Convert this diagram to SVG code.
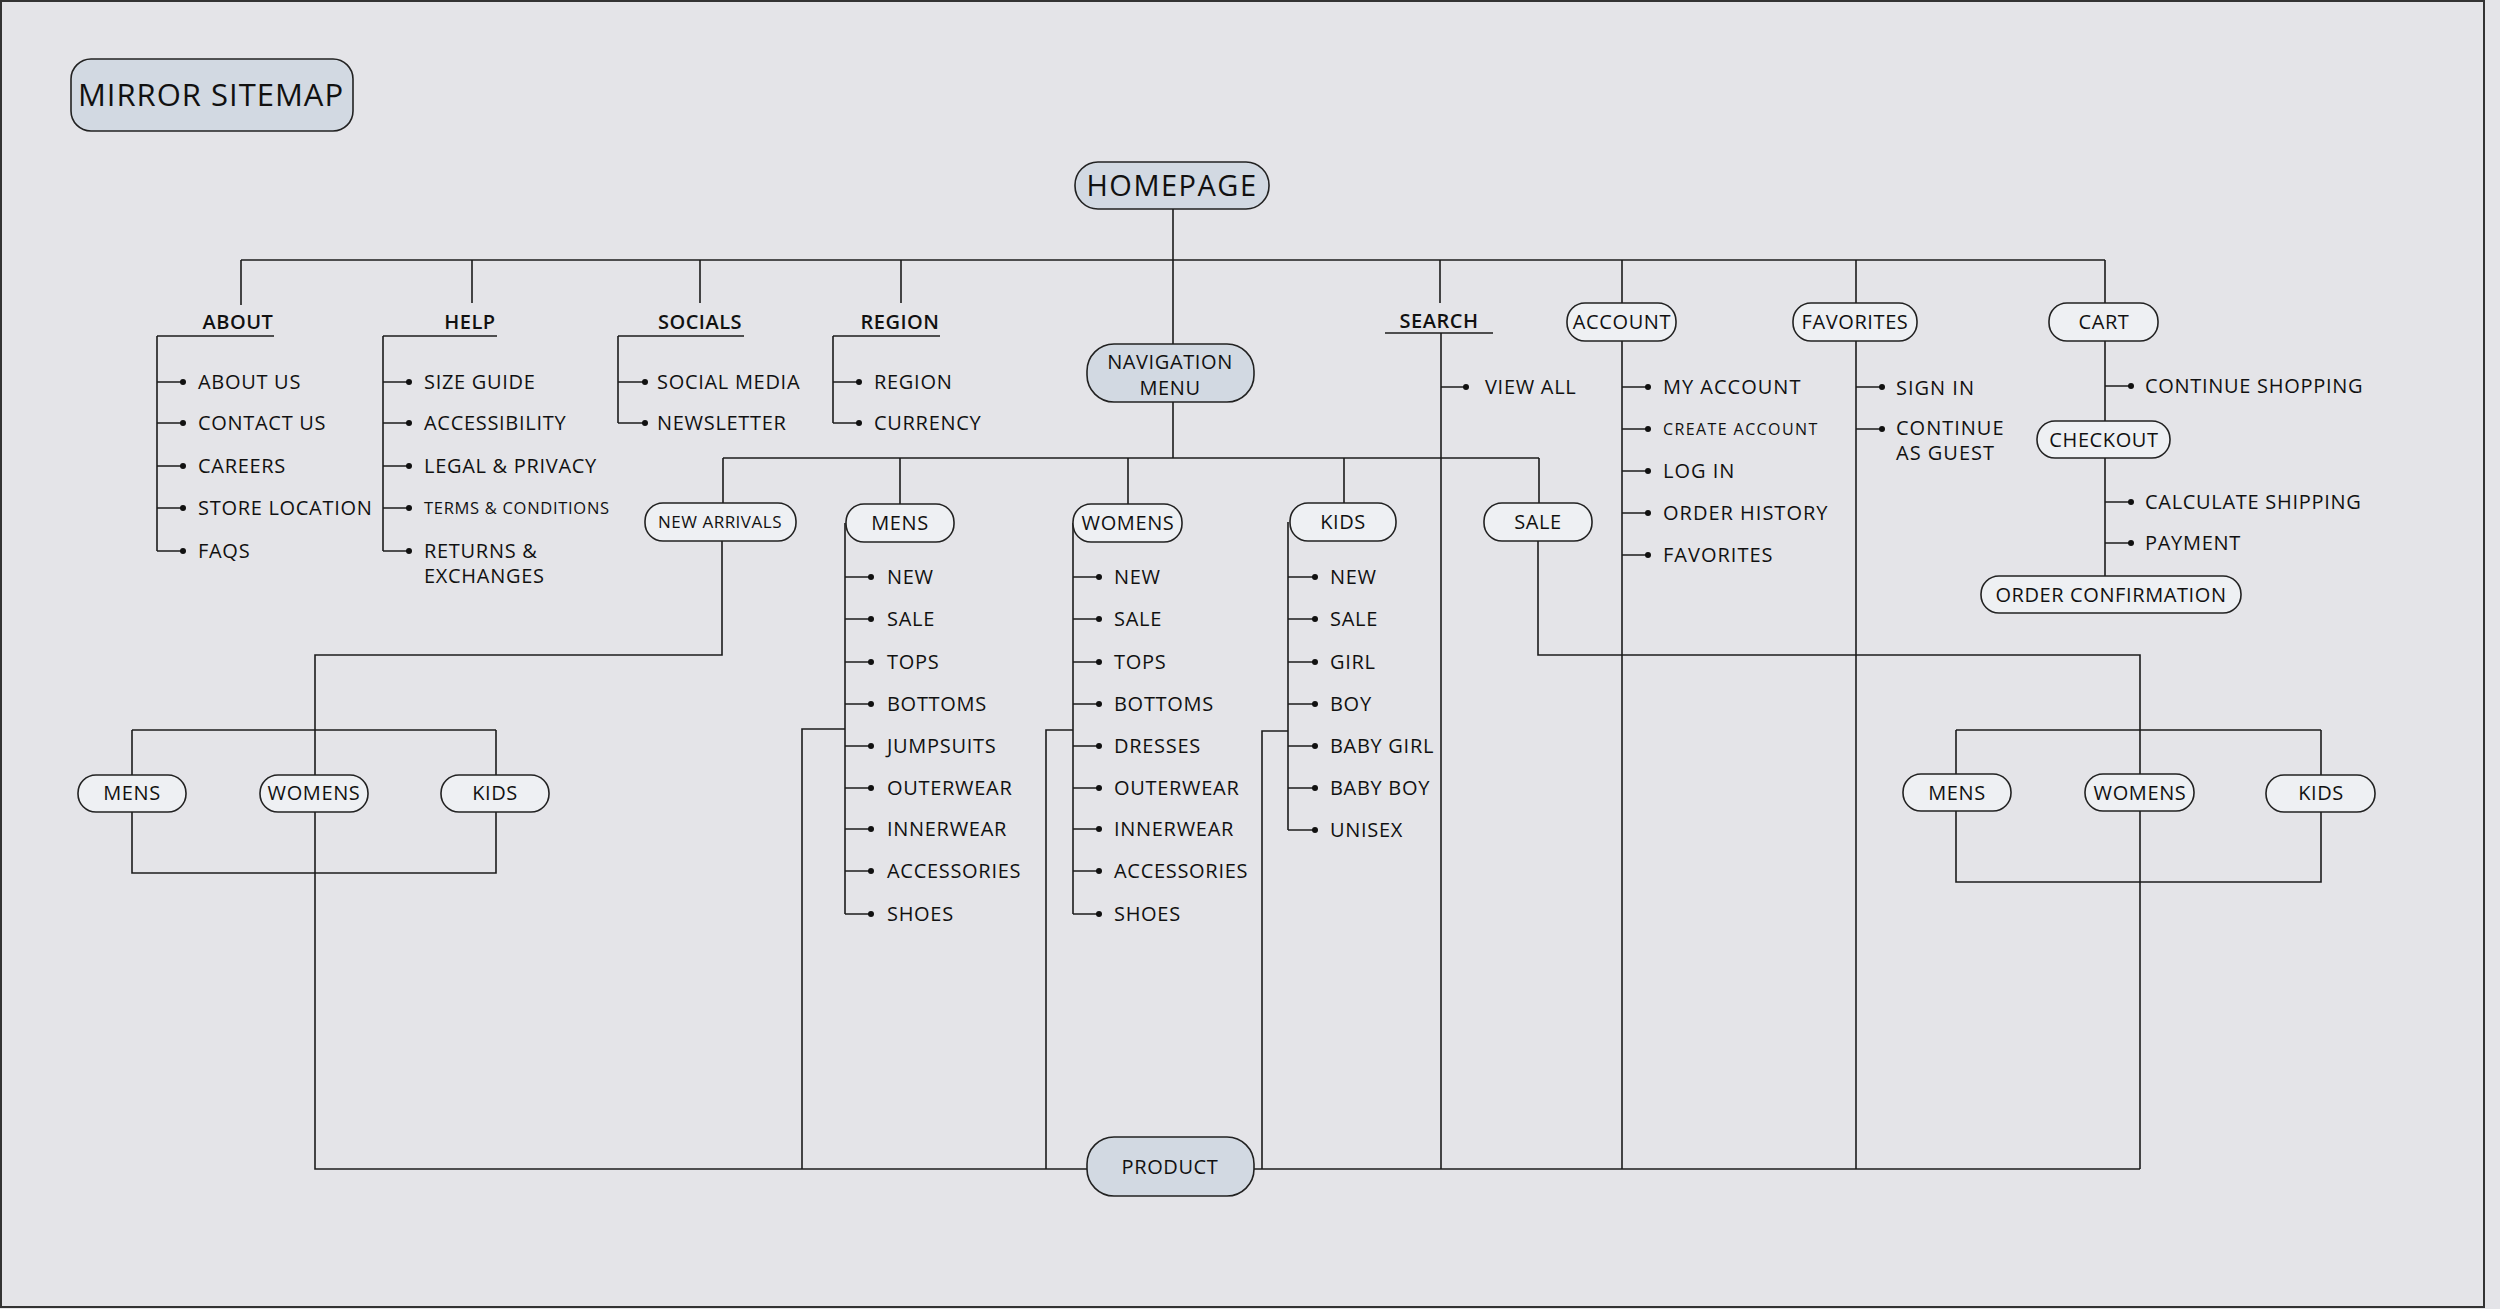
<svg xmlns="http://www.w3.org/2000/svg" width="2500" height="1309" viewBox="0 0 2500 1309">
<style>
.ln{stroke:#1c1c1c;stroke-width:1.6;fill:none}
.nd{fill:#eef0f3;stroke:#222;stroke-width:1.6}
.nm{fill:#d2d9e2;stroke:#222;stroke-width:1.6}
text{font-family:"Open Sans","Noto Sans",sans-serif;fill:#111}
.it{font-size:20px;letter-spacing:0.7px}
.ac{font-size:20px;letter-spacing:1px}
.sm{font-size:16.5px;letter-spacing:0.7px}
.lb{font-size:20px;font-weight:600;letter-spacing:0.5px;text-anchor:middle}
.nt{font-size:20px;letter-spacing:0.6px;text-anchor:middle}
.bl{fill:#111}
</style>
<rect x="0" y="0" width="2500" height="1309" fill="#e4e4e8"/>
<rect x="1" y="1" width="2483" height="1306" fill="none" stroke="#333" stroke-width="2"/>

<g id="connectors">
<path class="ln" d="M1173 209V344M241 260H2105M241 260V305M472 260V303M700 260V303M901 260V303M1440 260V303M1622 260V303M1856 260V303M2105 260V303"/>
<path class="ln" d="M157 336H274M157 336V551M383 336H497M383 336V551M618 336H744M618 336V423M833 336H940M833 336V423M1385 333H1493M1441 333V1169"/>
<path class="ln" d="M1622 341V1169M1856 341V1169M2105 341V421M2105 458V576"/>
<path class="ln" d="M1173 402V458M723 458H1539M723 458V503M900 458V504M1128 458V504M1344 458V503M1539 458V503"/>
<path class="ln" d="M722 541V655H315V775M132 730H496M132 730V775M496 730V775M132 812V873H496V812M315 812V1169H1087M1254 1169H2140"/>
<path class="ln" d="M845 523V914M845 729H802V1169M1073 523V914M1073 730H1046V1169M1288 522V830M1288 731H1262V1169"/>
<path class="ln" d="M1538 541V655H2140V774M1956 730H2321M1956 730V774M2321 730V775M1956 811V882H2321V812M2140 811V1169"/>
</g>

<g id="bullets">
<path class="ln" d="M157 382H183M157 423H183M157 466H183M157 508H183M157 551H183M383 382H409M383 423H409M383 466H409M383 508H409M383 551H409M618 382H645M618 423H645M833 382H859M833 423H859M1441 387H1466M1622 387H1648M1622 429H1648M1622 471H1648M1622 513H1648M1622 555H1648M1856 387H1882M1856 429H1882M2105 386H2131M2105 502H2131M2105 543H2131"/>
<path class="ln" d="M845 577H871M845 619H871M845 662H871M845 704H871M845 746H871M845 788H871M845 829H871M845 871H871M845 914H871M1073 577H1099M1073 619H1099M1073 662H1099M1073 704H1099M1073 746H1099M1073 788H1099M1073 829H1099M1073 871H1099M1073 914H1099M1288 577H1315M1288 619H1315M1288 662H1315M1288 704H1315M1288 746H1315M1288 788H1315M1288 830H1315"/>
<g class="bl">
<circle cx="183" cy="382" r="3"/><circle cx="183" cy="423" r="3"/><circle cx="183" cy="466" r="3"/><circle cx="183" cy="508" r="3"/><circle cx="183" cy="551" r="3"/>
<circle cx="409" cy="382" r="3"/><circle cx="409" cy="423" r="3"/><circle cx="409" cy="466" r="3"/><circle cx="409" cy="508" r="3"/><circle cx="409" cy="551" r="3"/>
<circle cx="645" cy="382" r="3"/><circle cx="645" cy="423" r="3"/><circle cx="859" cy="382" r="3"/><circle cx="859" cy="423" r="3"/>
<circle cx="1466" cy="387" r="3"/>
<circle cx="1648" cy="387" r="3"/><circle cx="1648" cy="429" r="3"/><circle cx="1648" cy="471" r="3"/><circle cx="1648" cy="513" r="3"/><circle cx="1648" cy="555" r="3"/>
<circle cx="1882" cy="387" r="3"/><circle cx="1882" cy="429" r="3"/>
<circle cx="2131" cy="386" r="3"/><circle cx="2131" cy="502" r="3"/><circle cx="2131" cy="543" r="3"/>
<circle cx="871" cy="577" r="3"/><circle cx="871" cy="619" r="3"/><circle cx="871" cy="662" r="3"/><circle cx="871" cy="704" r="3"/><circle cx="871" cy="746" r="3"/><circle cx="871" cy="788" r="3"/><circle cx="871" cy="829" r="3"/><circle cx="871" cy="871" r="3"/><circle cx="871" cy="914" r="3"/>
<circle cx="1099" cy="577" r="3"/><circle cx="1099" cy="619" r="3"/><circle cx="1099" cy="662" r="3"/><circle cx="1099" cy="704" r="3"/><circle cx="1099" cy="746" r="3"/><circle cx="1099" cy="788" r="3"/><circle cx="1099" cy="829" r="3"/><circle cx="1099" cy="871" r="3"/><circle cx="1099" cy="914" r="3"/>
<circle cx="1315" cy="577" r="3"/><circle cx="1315" cy="619" r="3"/><circle cx="1315" cy="662" r="3"/><circle cx="1315" cy="704" r="3"/><circle cx="1315" cy="746" r="3"/><circle cx="1315" cy="788" r="3"/><circle cx="1315" cy="830" r="3"/>
</g>
</g>

<g id="title"><rect class="nm" x="71" y="59" width="282" height="72" rx="20"/><text x="211" y="106" style="font-size:31px;letter-spacing:1px" text-anchor="middle">MIRROR SITEMAP</text></g>
<g id="homepage"><rect class="nm" x="1075" y="162" width="194" height="47" rx="23"/><text x="1172" y="196" style="font-size:29px;letter-spacing:1.5px" text-anchor="middle">HOMEPAGE</text></g>
<g id="navigation-menu"><rect class="nm" x="1087" y="344" width="167" height="58" rx="27"/><text class="nt" x="1170" y="369">NAVIGATION</text><text class="nt" x="1170" y="395">MENU</text></g>
<g id="product"><rect class="nm" x="1087" y="1137" width="167" height="59" rx="27"/><text class="nt" x="1170" y="1174">PRODUCT</text></g>

<g id="about"><text class="lb" x="238" y="329">ABOUT</text>
<text class="it" x="198" y="389">ABOUT US</text><text class="it" x="198" y="430">CONTACT US</text><text class="it" x="198" y="473">CAREERS</text><text class="it" x="198" y="515">STORE LOCATION</text><text class="it" x="198" y="558">FAQS</text></g>
<g id="help"><text class="lb" x="470" y="329">HELP</text>
<text class="it" x="424" y="389">SIZE GUIDE</text><text class="it" x="424" y="430">ACCESSIBILITY</text><text class="it" x="424" y="473">LEGAL &amp; PRIVACY</text><text class="sm" x="424" y="514">TERMS &amp; CONDITIONS</text><text class="it" x="424" y="558">RETURNS &amp;</text><text class="it" x="424" y="583">EXCHANGES</text></g>
<g id="socials"><text class="lb" x="700" y="329">SOCIALS</text>
<text class="it" x="657" y="389">SOCIAL MEDIA</text><text class="it" x="657" y="430">NEWSLETTER</text></g>
<g id="region"><text class="lb" x="900" y="329">REGION</text>
<text class="it" x="874" y="389">REGION</text><text class="it" x="874" y="430">CURRENCY</text></g>
<g id="search"><text class="lb" x="1439" y="328">SEARCH</text><text class="it" x="1485" y="394">VIEW ALL</text></g>
<g id="account"><rect class="nd" x="1567" y="303" width="109" height="38" rx="18"/><text class="nt" x="1622" y="329">ACCOUNT</text>
<text class="ac" x="1663" y="394">MY ACCOUNT</text><text x="1663" y="435" style="font-size:16px;letter-spacing:1.4px">CREATE ACCOUNT</text><text class="ac" x="1663" y="478">LOG IN</text><text class="ac" x="1663" y="520">ORDER HISTORY</text><text class="ac" x="1663" y="562">FAVORITES</text></g>
<g id="favorites"><rect class="nd" x="1793" y="303" width="124" height="38" rx="18"/><text class="nt" x="1855" y="329">FAVORITES</text>
<text class="ac" x="1896" y="395">SIGN IN</text><text class="ac" x="1896" y="435">CONTINUE</text><text class="ac" x="1896" y="460">AS GUEST</text></g>
<g id="cart"><rect class="nd" x="2049" y="303" width="109" height="38" rx="18"/><text class="nt" x="2104" y="329">CART</text>
<text class="it" x="2145" y="393">CONTINUE SHOPPING</text></g>
<g id="checkout"><rect class="nd" x="2037" y="421" width="133" height="37" rx="18"/><text class="nt" x="2104" y="447">CHECKOUT</text>
<text class="it" x="2145" y="509">CALCULATE SHIPPING</text><text class="it" x="2145" y="550">PAYMENT</text></g>
<g id="order-confirmation"><rect class="nd" x="1981" y="576" width="260" height="37" rx="18"/><text class="nt" x="2111" y="602">ORDER CONFIRMATION</text></g>

<g id="new-arrivals"><rect class="nd" x="645" y="503" width="151" height="38" rx="18"/><text x="720" y="528" text-anchor="middle" style="font-size:17px;letter-spacing:0.5px">NEW ARRIVALS</text></g>
<g id="mens"><rect class="nd" x="846" y="504" width="108" height="38" rx="18"/><text class="nt" x="900" y="530">MENS</text>
<text class="it" x="887" y="584">NEW</text><text class="it" x="887" y="626">SALE</text><text class="it" x="887" y="669">TOPS</text><text class="it" x="887" y="711">BOTTOMS</text><text class="it" x="887" y="753">JUMPSUITS</text><text class="it" x="887" y="795">OUTERWEAR</text><text class="it" x="887" y="836">INNERWEAR</text><text class="it" x="887" y="878">ACCESSORIES</text><text class="it" x="887" y="921">SHOES</text></g>
<g id="womens"><rect class="nd" x="1073" y="504" width="109" height="38" rx="18"/><text class="nt" x="1128" y="530">WOMENS</text>
<text class="it" x="1114" y="584">NEW</text><text class="it" x="1114" y="626">SALE</text><text class="it" x="1114" y="669">TOPS</text><text class="it" x="1114" y="711">BOTTOMS</text><text class="it" x="1114" y="753">DRESSES</text><text class="it" x="1114" y="795">OUTERWEAR</text><text class="it" x="1114" y="836">INNERWEAR</text><text class="it" x="1114" y="878">ACCESSORIES</text><text class="it" x="1114" y="921">SHOES</text></g>
<g id="kids"><rect class="nd" x="1290" y="503" width="106" height="38" rx="18"/><text class="nt" x="1343" y="529">KIDS</text>
<text class="it" x="1330" y="584">NEW</text><text class="it" x="1330" y="626">SALE</text><text class="it" x="1330" y="669">GIRL</text><text class="it" x="1330" y="711">BOY</text><text class="it" x="1330" y="753">BABY GIRL</text><text class="it" x="1330" y="795">BABY BOY</text><text class="it" x="1330" y="837">UNISEX</text></g>
<g id="sale"><rect class="nd" x="1484" y="503" width="108" height="38" rx="18"/><text class="nt" x="1538" y="529">SALE</text></g>

<g id="na-mens"><rect class="nd" x="78" y="775" width="108" height="37" rx="18"/><text class="nt" x="132" y="800">MENS</text></g>
<g id="na-womens"><rect class="nd" x="260" y="775" width="108" height="37" rx="18"/><text class="nt" x="314" y="800">WOMENS</text></g>
<g id="na-kids"><rect class="nd" x="441" y="775" width="108" height="37" rx="18"/><text class="nt" x="495" y="800">KIDS</text></g>
<g id="sale-mens"><rect class="nd" x="1903" y="774" width="108" height="37" rx="18"/><text class="nt" x="1957" y="800">MENS</text></g>
<g id="sale-womens"><rect class="nd" x="2085" y="774" width="109" height="37" rx="18"/><text class="nt" x="2140" y="800">WOMENS</text></g>
<g id="sale-kids"><rect class="nd" x="2266" y="775" width="109" height="37" rx="18"/><text class="nt" x="2321" y="800">KIDS</text></g>
</svg>
